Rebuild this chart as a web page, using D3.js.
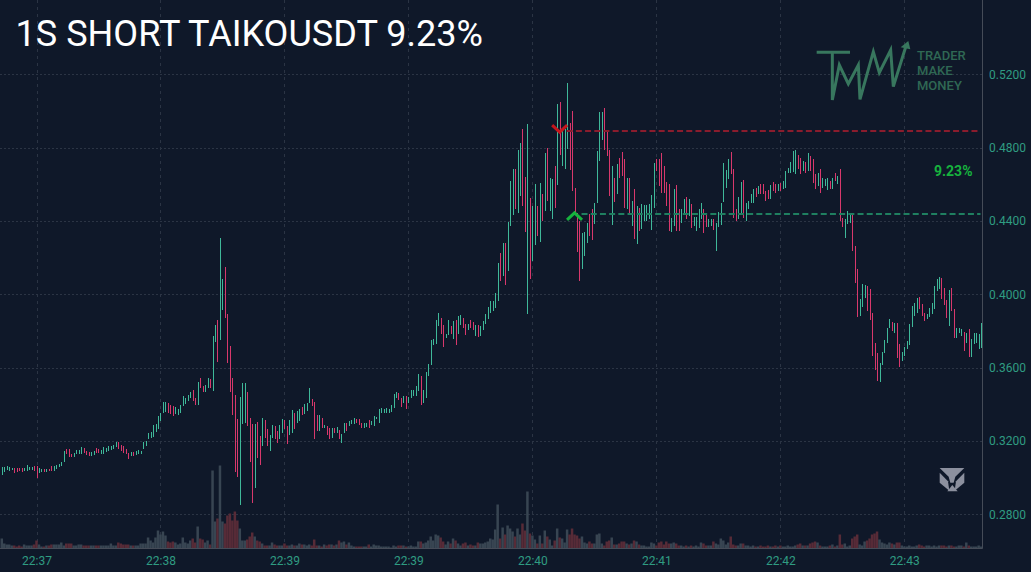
<!DOCTYPE html>
<html>
<head>
<meta charset="utf-8">
<title>1S SHORT TAIKOUSDT 9.23%</title>
<script src="https://cdn.jsdelivr.net/npm/d3@7/dist/d3.min.js"></script>
<style>
  html, body { margin: 0; padding: 0; background: #0f1829; overflow: hidden; }
  svg { display: block; font-family: Roboto, "Liberation Sans", sans-serif; }
</style>
</head>
<body>
<svg id="chart" width="1031" height="572"></svg>
<script>
// One-second candles, prices in ten-thousandths of a USDT
const lows = [
  3013,3032,3040,3036,3040,3028,3032,3036,3032,3034,
  3034,3040,3042,3038,2998,3024,3030,3030,3032,3034,
  3036,3038,3048,3056,3062,3085,3128,3112,3112,3110,
  3128,3130,3130,3135,3122,3116,3120,3122,3135,3136,
  3130,3128,3142,3145,3150,3155,3168,3158,3145,3132,
  3128,3102,3118,3120,3125,3128,3130,3155,3170,3210,
  3215,3220,3250,3268,3310,3355,3360,3355,3345,3335,
  3345,3342,3354,3390,3400,3418,3436,3418,3396,3394,
  3490,3468,3468,3490,3490,3472,3739,3632,3750,3913,
  3869,3626,3467,3341,3031,3004,2852,3291,3296,3282,
  3086,2864,2942,3109,3068,3173,3218,3173,3146,3218,
  3213,3187,3209,3245,3264,3182,3231,3245,3267,3300,
  3309,3340,3345,3363,3409,3390,3209,3255,3255,3273,
  3273,3231,3213,3218,3242,3245,3213,3191,3245,3254,
  3282,3290,3290,3300,3285,3270,3270,3275,3270,3285,
  3282,3320,3300,3350,3351,3355,3355,3360,3378,3433,
  3424,3387,3405,3375,3405,3433,3447,3447,3475,3396,
  3405,3433,3556,3615,3725,3730,3825,3785,3710,3760,
  3780,3785,3755,3725,3785,3835,3815,3780,3805,3815,
  3805,3775,3765,3770,3805,3840,3865,3900,3910,3925,
  3965,4073,4100,4050,4127,4373,4430,4464,4445,4536,
  4482,4340,3890,4082,4182,4270,4318,4285,4400,4455,
  4510,4455,4410,4473,4595,4760,4700,4685,4790,4680,
  4564,4436,4230,4073,4136,4209,4282,4318,4295,4382,
  4497,4727,4840,4785,4755,4536,4378,4503,4545,4636,
  4645,4473,4464,4445,4373,4300,4273,4345,4355,4400,
  4400,4410,4350,4473,4673,4590,4555,4551,4482,4345,
  4340,4373,4345,4345,4390,4436,4409,4427,4364,4373,
  4345,4364,4409,4336,4369,4369,4373,4351,4236,4369,
  4376,4504,4582,4627,4655,4418,4400,4409,4445,4418,
  4400,4464,4500,4500,4533,4545,4545,4545,4509,4520,
  4522,4564,4555,4564,4564,4573,4582,4664,4664,4667,
  4658,4682,4655,4673,4664,4673,4673,4609,4573,4591,
  4551,4582,4590,4569,4573,4573,4618,4600,4400,4367,
  4305,4382,4391,4236,4063,3878,3882,3932,3981,3909,
  3860,3666,3587,3526,3521,3614,3681,3736,3818,3800,
  3790,3654,3603,3635,3666,3699,3723,3823,3881,3900,
  3918,3881,3854,3867,3878,3890,3921,4018,4027,3972,
  3940,3872,3827,3909,3759,3763,3787,3772,3690,3736,
  3657,3657,3727,3736,3699,3708
];
const highs = [
  3060,3058,3064,3056,3054,3050,3052,3050,3050,3054,
  3070,3060,3060,3062,3062,3054,3048,3046,3046,3046,
  3062,3064,3068,3075,3085,3145,3155,3155,3128,3132,
  3152,3150,3165,3160,3148,3142,3140,3145,3160,3158,
  3150,3165,3160,3170,3175,3180,3192,3192,3178,3170,
  3155,3135,3142,3140,3145,3150,3148,3195,3198,3245,
  3250,3285,3295,3335,3355,3412,3410,3405,3395,3390,
  3385,3372,3394,3445,3436,3450,3467,3476,3436,3521,
  3541,3499,3503,3545,3539,3771,3835,3862,4306,4083,
  4147,3893,3720,3541,3449,3318,3440,3514,3514,3467,
  3327,3291,3291,3303,3227,3327,3312,3264,3231,3285,
  3282,3254,3285,3318,3314,3282,3314,3367,3350,3363,
  3376,3385,3400,3409,3487,3427,3412,3340,3340,3327,
  3287,3282,3273,3273,3269,3274,3258,3236,3300,3300,
  3310,3315,3325,3320,3318,3300,3300,3300,3312,3310,
  3336,3330,3372,3380,3375,3378,3372,3396,3455,3466,
  3460,3433,3445,3447,3440,3480,3478,3500,3566,3555,
  3478,3578,3618,3751,3756,3860,3896,3870,3835,3785,
  3860,3825,3855,3860,3880,3885,3870,3840,3840,3860,
  3850,3832,3835,3825,3855,3890,3930,3965,3965,4005,
  4170,4227,4282,4282,4395,4618,4682,4682,4785,4827,
  4900,4642,4930,4527,4482,4600,4482,4609,4545,4773,
  4800,4636,4627,4700,5036,5049,4890,4900,5151,4936,
  5000,4582,4445,4400,4336,4340,4391,4436,4464,4500,
  4780,4995,4995,5015,4890,4785,4700,4632,4710,4745,
  4775,4736,4632,4636,4510,4573,4482,4473,4491,4485,
  4485,4491,4542,4715,4736,4736,4770,4700,4615,4600,
  4418,4576,4595,4464,4464,4518,4533,4522,4491,4424,
  4424,4464,4496,4464,4442,4409,4409,4409,4387,4451,
  4500,4715,4678,4736,4778,4685,4467,4533,4613,4622,
  4500,4509,4545,4576,4582,4591,4600,4600,4564,4570,
  4595,4613,4600,4600,4609,4618,4673,4691,4722,4782,
  4785,4758,4745,4727,4722,4773,4755,4736,4655,4664,
  4682,4636,4627,4636,4618,4636,4664,4645,4682,4418,
  4409,4455,4445,4442,4264,4136,3973,4054,4049,4045,
  4027,3900,3736,3678,3627,3687,3750,3818,3863,3849,
  3845,3845,3727,3687,3712,3745,3836,3936,3950,3981,
  3987,3945,3900,3890,3927,3950,4045,4082,4096,4087,
  4036,3969,4021,4032,3918,3818,3818,3812,3796,3790,
  3809,3754,3790,3790,3781,3841
];
// Candle direction: u closes above its open, d closes below
const sides = (
  "u u u u u d d d d u " + "u u u d d u u d u d " + "d u u u u u d d d u " +
  "u u u d d d u u d d " + "u u u u u u u d d d " + "d d u d u u u u u u " +
  "u u u u u u u d d d " + "u u u u u u u d d u " + "d d u u d u u d u u " +
  "d d d d d d u u u d " + "d d u d d u d d u u " + "d d u u d d u u d u " +
  "u d u u u d d d u d " + "u d d u d u d u u d " + "u u u d d d u u d u " +
  "u u u u u u u u u u " + "d d u d u u u u u d " + "u u u u u u u d d u " +
  "u d u d u u d d u d " + "d u d u u u u u u u " + "u d u d u u u d u u " +
  "d d u d u u d u d u " + "d u u d u d u u u d " + "d d d d u u u d d u " +
  "u u u d d d u d u d " + "d d u d u d u d u u " + "u u u u d d d d d d " +
  "u u d d u u d u d u " + "u u u d d u u d u u " + "u u u u d d d u u d " +
  "u u u u d u d d d d " + "u d d u d u u u u u " + "u d d u d u d d d u " +
  "d u u u d u d u d d " + "u u u d d d u u u d " + "d d d d u u u u u d " +
  "u d d u u u u u u u " + "d d d u u u u u u d " + "d d u d d u u u d u " +
  "d u u u u u"
).split(" ");
const volumes = [
  10,5,4,4,3,3,2,3,2,4,
  3,3,3,4,8,4,2,2,3,3,
  4,4,4,4,6,3,5,5,5,3,
  3,4,4,3,3,3,3,3,3,3,
  3,3,3,3,5,3,3,6,5,4,
  4,4,3,3,3,3,5,5,5,11,
  8,6,11,18,14,17,13,7,6,7,
  6,4,5,11,6,5,8,10,6,22,
  10,9,6,8,4,78,27,30,83,27,
  25,33,35,28,37,28,20,8,8,9,
  12,16,12,8,7,5,3,3,3,6,
  4,3,3,3,5,3,3,4,3,3,
  5,4,4,3,4,3,9,3,3,2,
  4,3,4,4,3,4,8,6,7,4,
  6,3,2,2,2,2,2,2,4,2,
  4,3,3,2,2,2,2,1,3,2,
  3,3,3,2,2,3,2,2,7,7,
  5,6,8,12,8,14,13,11,7,4,
  7,5,10,8,5,3,5,6,3,4,
  3,3,6,5,5,6,7,10,9,19,
  44,10,21,14,23,20,17,12,20,14,
  25,18,57,15,13,9,5,13,5,18,
  12,9,3,8,20,11,10,6,19,14,
  20,14,13,10,12,6,5,7,5,5,
  14,15,5,3,7,8,11,4,4,5,
  7,7,5,4,5,8,7,4,3,3,
  2,2,6,5,3,6,7,4,7,5,
  5,6,5,3,3,2,3,2,3,2,
  3,2,6,5,3,3,3,7,5,4,
  10,8,4,6,12,4,3,3,5,5,
  3,3,2,3,2,2,3,2,2,3,
  2,2,3,2,3,2,2,3,2,2,
  3,4,5,3,3,3,5,6,7,6,
  3,2,2,2,3,4,2,3,14,4,
  5,2,3,10,12,14,4,3,7,8,
  10,14,15,17,9,6,5,4,6,5,
  4,6,6,3,2,2,3,2,2,3,
  4,3,2,3,3,2,3,2,3,3,
  3,2,3,3,2,2,3,3,2,6,
  3,2,2,2,3,2
];
const priceTicks = [0.28, 0.32, 0.36, 0.40, 0.44, 0.48, 0.52];
const timeTickBars = [14, 64, 114, 164, 214, 264, 314, 364];
const timeTickLabels = ["22:37", "22:38", "22:39", "22:39", "22:40", "22:41", "22:42", "22:43"];

// Short trade: entered on a bar, covered a few bars later
const titleText = "1S SHORT TAIKOUSDT 9.23%";
const profitPct = 9.23;
const entryBar = 225;
const exitBar = 231;
const entryPrice = 0.4890;
const exitPrice = entryPrice * (1 - profitPct / 100);
const brandLines = ["TRADER", "MAKE", "MONEY"];

const plotRight = 982.5;
const plotBottom = 548.5;
const colors = {
  up: "#3fb899", down: "#d8386c",
  volUp: "#384552", volDown: "#572b37",
  grid: "#2b3444", border: "#454b57", axis: "#2f9c82"
};

const svg = d3.select("#chart");
const x = d3.scaleLinear().domain([14, 364]).range([36.5, 904.3]);
const y = d3.scaleLinear().domain([0.28, 0.52]).range([514.3, 74.3]);
const v = d3.scaleLinear().domain([0, 83]).range([plotBottom, plotBottom - 83]);
const px = i => Math.round(x(i)) + 0.5;
const snap = p => Math.round(p) + 0.5;

// Dotted grid, one line per axis tick
const grid = svg.append("g").attr("fill", "none").attr("stroke", colors.grid);
grid.selectAll("line.h").data(priceTicks).join("line").attr("class", "h")
  .attr("x1", 0).attr("x2", plotRight)
  .attr("y1", d => snap(y(d))).attr("y2", d => snap(y(d)))
  .attr("stroke-dasharray", "2 2");
grid.selectAll("line.v").data(timeTickBars).join("line").attr("class", "v")
  .attr("x1", d => snap(x(d))).attr("x2", d => snap(x(d)))
  .attr("y1", 0).attr("y2", plotBottom)
  .attr("stroke-dasharray", "3 4");

// Volume histogram along the bottom edge
svg.append("g").selectAll("rect").data(volumes).join("rect")
  .attr("x", (d, i) => x(i) - 1.25)
  .attr("width", 2.5)
  .attr("y", d => v(d))
  .attr("height", d => plotBottom - v(d))
  .attr("fill", (d, i) => sides[i] === "u" ? colors.volUp : colors.volDown);

// Candles are thin enough that body and wick read as a single stroke
svg.append("g").attr("shape-rendering", "crispEdges")
  .selectAll("line").data(lows).join("line")
  .attr("x1", (d, i) => px(i)).attr("x2", (d, i) => px(i))
  .attr("y1", d => y(d / 1e4))
  .attr("y2", (d, i) => y(highs[i] / 1e4))
  .attr("stroke", (d, i) => sides[i] === "u" ? colors.up : colors.down)
  .attr("stroke-width", 1);

// Entry and exit levels run from just past their markers to the right edge
const levels = svg.append("g").attr("fill", "none").attr("stroke-width", 2).attr("stroke-dasharray", "6 3.2");
levels.append("line").attr("x1", x(entryBar) + 7).attr("x2", plotRight - 2)
  .attr("y1", Math.round(y(entryPrice))).attr("y2", Math.round(y(entryPrice))).attr("stroke", "#8a1c2d");
levels.append("line").attr("x1", x(exitBar) + 7).attr("x2", plotRight - 2)
  .attr("y1", Math.round(y(exitPrice))).attr("y2", Math.round(y(exitPrice))).attr("stroke", "#1f7f60");

// Chevron markers for the short entry and the cover
const chevron = (bar, price, dir, color) => {
  const cx = x(bar), cy = y(price);
  svg.append("path")
    .attr("d", d3.line()([[cx - 7.5, cy - 6 * dir], [cx, cy + dir], [cx + 7.5, cy - 6 * dir]]))
    .attr("fill", "none").attr("stroke", color).attr("stroke-width", 3);
};
chevron(entryBar, entryPrice, 1, "#c4161c");
chevron(exitBar, exitPrice, -1, "#17b23e");

// Axes
const yAxis = d3.axisRight(y).tickValues(priceTicks).tickSize(0).tickPadding(6.5).tickFormat(d3.format(".4f"));
const yg = svg.append("g").attr("transform", `translate(${plotRight},0)`).call(yAxis);
yg.select(".domain").remove();
yg.selectAll("text").attr("fill", colors.axis).attr("font-size", 12).attr("font-family", "Roboto");

const xAxis = d3.axisBottom(x).tickValues(timeTickBars).tickSize(0).tickPadding(7.5)
  .tickFormat((d, i) => timeTickLabels[i]);
const xg = svg.append("g").attr("transform", `translate(0,${plotBottom})`).call(xAxis);
xg.select(".domain").remove();
xg.selectAll("text").attr("fill", colors.axis).attr("font-size", 12).attr("font-family", "Roboto");

svg.append("path")
  .attr("d", `M${plotRight},0V${plotBottom}H0`)
  .attr("fill", "none").attr("stroke", colors.border);

// Title and result label
svg.append("text").attr("x", 15.5).attr("y", 46)
  .attr("fill", "#ffffff").attr("font-size", 36.1).text(titleText);
svg.append("text").attr("x", 972.5).attr("y", 176).attr("text-anchor", "end")
  .attr("fill", "#17b23e").attr("font-size", 14).attr("font-weight", 700).text(`${profitPct}%`);

// Brand mark, top right
const brand = svg.append("g").attr("transform", "translate(800,30) scale(0.3333)")
  .attr("fill", "none").attr("stroke", "#38775e").attr("stroke-width", 9);
brand.append("path").attr("d", "M50,67H150M97,67V210L118,105L145,162L175,105L180,208L220,65L238,128L272,60L280,170L318,48");
brand.append("path").attr("d", "M325,33L302,52L331,58Z").attr("fill", "#38775e").attr("stroke", "none");
svg.append("g").selectAll("text").data(brandLines).join("text")
  .attr("x", 917).attr("y", (d, i) => 59.5 + i * 15.3)
  .attr("fill", "#2f6854").attr("font-size", 13).attr("font-weight", 500).text(d => d);

// Exchange emblem, lower right
const emblem = svg.append("g").attr("transform", "translate(840,440) scale(0.3333)").attr("fill", "#8c909e");
["M299,84L373,84L346,110L341,128L331,128L326,110Z",
 "M299,98L324,124L328,152L299,128Z",
 "M373,98L348,124L344,152L373,128Z",
 "M337,135L353,154L322,154Z"].forEach(d => emblem.append("path").attr("d", d));
</script>
</body>
</html>
